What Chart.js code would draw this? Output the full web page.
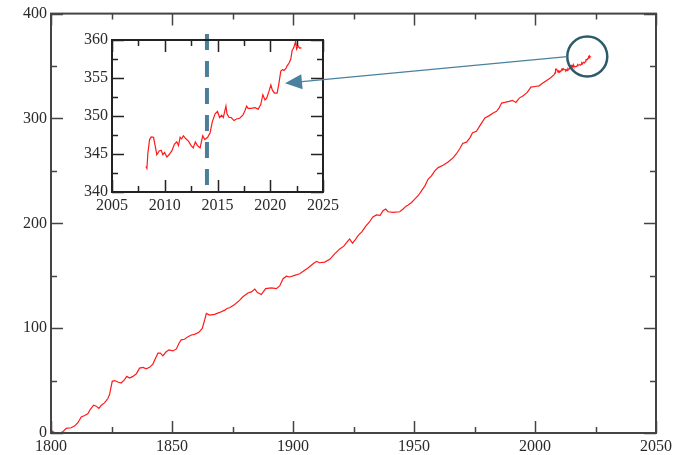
<!DOCTYPE html>
<html><head><meta charset="utf-8">
<script src="https://cdn.jsdelivr.net/npm/chart.js@4/dist/chart.umd.min.js"></script>
<style>
html,body{margin:0;padding:0;background:#fff;}
#wrap{position:relative;width:689px;height:455px;}
canvas{position:absolute;left:0;top:0;}
</style></head><body>
<div id="wrap"><canvas id="main" width="689" height="455"></canvas><canvas id="inset" width="689" height="455"></canvas></div>
<script>
// ---- data ----
const mainYears = [1800.1,1801.4,1803.5,1804.9,1806.3,1808.3,1809.7,1811.1,1812.5,1813.9,1815.2,1816.2,1817.6,1818.7,1819.8,1820.8,1822.1,1823.5,1824.2,1824.6,1825.3,1826.3,1827.6,1829,1830.4,1831.3,1832.5,1833.8,1835.2,1836.6,1838,1839.4,1840.7,1842.1,1843.2,1844.2,1845.2,1846.2,1847.4,1848.7,1850.4,1851.8,1852.9,1853.8,1855.2,1856.6,1858,1859.3,1861.1,1862.5,1863.5,1864.2,1865.5,1867.6,1869.7,1871.8,1872.7,1873.8,1875.9,1878,1879.3,1881.4,1882.8,1884.2,1885.3,1886.9,1888.7,1891.1,1893.1,1894.5,1895.9,1897.3,1898.6,1900.7,1902.8,1904.8,1906.2,1908.3,1909.7,1911,1913.1,1915.2,1917.2,1919.3,1921,1922.3,1923.4,1924.6,1925.5,1926.9,1928.5,1930,1931.5,1933,1934.5,1936,1937.2,1938.3,1939.3,1941.4,1944.1,1945.5,1946.6,1947.6,1949,1950.3,1951.7,1953.1,1954.5,1955.8,1957.2,1958.6,1960,1962,1964.1,1966.2,1967.6,1968.9,1970.1,1971.7,1973.1,1974.2,1975.8,1977.5,1979.3,1981.1,1982.7,1984.1,1985.2,1986.2,1987.5,1989.3,1990.7,1992.1,1993.5,1995.1,1996.8,1998.3,2000,2001.7,2003.1,2004.8,2006.2,2007.8];
const mainValues = [2.5,0.5,0,1.2,4.4,5,6.6,9.8,15.2,16.7,18.3,22.4,26.5,25.6,23.4,26.5,28.7,32.9,36.7,41.4,49.3,50,48.6,47.7,50.9,54,52.4,54,56.2,61.9,62.6,61.3,62.6,65.7,71.4,76.1,76.1,73.6,77,79.3,78.3,80.2,85.6,88.8,89.4,91.9,93.5,94.1,96,99.8,107.8,114,112.5,113.1,115,117.2,118.8,119.4,122.6,126.7,129.9,133.6,134.6,137.2,133.9,132,137.7,138.4,137.7,140.3,147.2,149.5,148.8,150.4,151.9,155.2,157.3,161.4,163.7,162.4,163,165.6,170.9,175.6,178.2,182,185.1,181,183.6,188.3,192,197,201,206,208,207.5,212,213.6,211,210.4,211,213.6,216.1,217.4,219.9,223,226.3,231,235.7,242,245.2,250,253.1,255.3,258.5,262.6,266.6,271.1,276.1,277.4,281.5,286.3,287.8,294.1,300.5,302.7,305.2,306.8,310,314.7,315.3,316.3,317.3,315.3,319.4,321.6,324.8,329.9,330.5,331.1,333.6,336.2,338.4,341.5];
const insetYears = [2008.21,2008.31,2008.4,2008.56,2008.72,2008.94,2009.1,2009.25,2009.47,2009.66,2009.82,2009.98,2010.2,2010.4,2010.67,2010.92,2011.14,2011.3,2011.46,2011.6,2011.77,2012.0,2012.25,2012.5,2012.7,2012.9,2013.1,2013.35,2013.6,2013.8,2014.07,2014.3,2014.5,2014.77,2015.0,2015.2,2015.4,2015.55,2015.8,2015.9,2016.1,2016.3,2016.56,2016.8,2017.1,2017.4,2017.6,2017.76,2017.9,2018.2,2018.55,2018.86,2019.1,2019.3,2019.5,2019.65,2019.87,2020.06,2020.2,2020.4,2020.65,2020.8,2021.0,2021.16,2021.3,2021.5,2021.6,2021.8,2021.95,2022.07,2022.23,2022.4,2022.5,2022.64,2022.8,2022.95];
const insetValues = [343.36,343.1,345.1,346.9,347.25,347.2,346.0,344.9,345.4,345.5,344.9,345.2,344.6,344.9,345.4,346.3,346.6,346.1,347.2,347.0,347.4,347.0,346.7,346.1,345.8,346.6,346.1,345.8,347.4,346.9,347.2,347.8,349.2,350.3,350.6,349.8,350.1,349.8,351.3,350.3,349.8,349.8,349.4,349.6,349.7,350.1,350.7,351.3,351.0,351.0,351.1,350.9,351.5,352.8,352.1,352.3,353.2,354.1,353.4,353.0,353.0,354.1,355.9,356.1,356.0,356.3,356.6,357.0,357.5,358.6,359.0,359.8,358.8,359.2,358.9,359.0];
const mainXRange = [1800, 2050];
const mainYRange = [0, 400];
const insetXRange = [2005, 2025];
const insetYRange = [340, 360];
const markerYear = 2014;
const circleAt = {x: 2021.6, y: 359};
const arrowTip = {x: 2021.4, y: 354.3};

// ---- helpers ----
const FONT = {family: "'Liberation Serif','DejaVu Serif',serif", size: 16};
const LABEL = '#2a2a2a';
const isMaj = (v, m) => Math.abs(v / m - Math.round(v / m)) < 1e-6;
function framePlugin(id, xMajor, yMajor, color) {
  return {
    id,
    afterDraw(chart) {
      const {ctx, chartArea: a, scales: {x, y}} = chart;
      ctx.save();
      ctx.strokeStyle = color;
      ctx.lineWidth = 1.5;
      x.ticks.forEach(t => {
        const px = Math.round(x.getPixelForValue(t.value)) + 0.5;
        const L = isMaj(t.value, xMajor) ? 12 : 6;
        ctx.beginPath();
        ctx.moveTo(px, a.bottom); ctx.lineTo(px, a.bottom - L);
        ctx.moveTo(px, a.top); ctx.lineTo(px, a.top + L);
        ctx.stroke();
      });
      y.ticks.forEach(t => {
        const py = Math.round(y.getPixelForValue(t.value)) + 0.5;
        const L = isMaj(t.value, yMajor) ? 12 : 6;
        ctx.beginPath();
        ctx.moveTo(a.left, py); ctx.lineTo(a.left + L, py);
        ctx.moveTo(a.right, py); ctx.lineTo(a.right - L, py);
        ctx.stroke();
      });
      ctx.lineWidth = 2;
      ctx.strokeRect(a.left, a.top, a.right - a.left, a.bottom - a.top);
      ctx.restore();
    }
  };
}
function axis(range, step, major, fit) {
  return {
    type: 'linear', min: range[0], max: range[1],
    grid: {display: false, drawTicks: false},
    border: {display: false},
    afterFit: fit,
    ticks: {
      stepSize: step, autoSkip: false, maxRotation: 0, color: LABEL, font: FONT, padding: 4,
      callback: v => (isMaj(v, major) ? String(v) : '')
    }
  };
}

// ---- main chart ----
const mainData = mainYears.map((x, i) => ({x, y: mainValues[i]}))
  .concat(insetYears.map((x, i) => ({x, y: insetValues[i]})));
const mainChart = new Chart(document.getElementById('main'), {
  type: 'line',
  data: {datasets: [{data: mainData, borderColor: '#ff1a1a', borderWidth: 1.2, pointRadius: 0, tension: 0}]},
  options: {
    responsive: false, animation: false, devicePixelRatio: 1,
    layout: {padding: {left: 0, right: 33, top: 10, bottom: 0}},
    plugins: {legend: {display: false}, tooltip: {enabled: false}},
    scales: {
      x: axis(mainXRange, 25, 50, s => { s.height = 22; }),
      y: axis(mainYRange, 50, 100, s => { s.width = 51; })
    }
  },
  plugins: [framePlugin('mainFrame', 50, 100, '#444')]
});

// ---- inset chart (overlay) ----
const insetData = insetYears.map((x, i) => ({x, y: insetValues[i]}));
const markerPlugin = {
  id: 'marker',
  afterDatasetsDraw(chart) {
    const {ctx, chartArea: a, scales: {x}} = chart;
    const px = x.getPixelForValue(markerYear);
    ctx.save();
    ctx.strokeStyle = '#4a7f99';
    ctx.lineWidth = 4;
    ctx.setLineDash([16, 11]);
    ctx.beginPath();
    ctx.moveTo(px, a.top - 6); ctx.lineTo(px, a.bottom);
    ctx.stroke();
    ctx.restore();
  }
};
const calloutPlugin = {
  id: 'callout',
  afterDraw(chart) {
    const ctx = chart.ctx;
    const mx = mainChart.scales.x, my = mainChart.scales.y;
    const cx = mx.getPixelForValue(circleAt.x), cy = my.getPixelForValue(circleAt.y);
    const r = 20;
    const tx = chart.scales.x.getPixelForValue(arrowTip.x), ty = chart.scales.y.getPixelForValue(arrowTip.y);
    const sx = cx - r, sy = cy;
    ctx.save();
    // circle
    ctx.strokeStyle = '#2e5a6a';
    ctx.lineWidth = 2.5;
    ctx.beginPath(); ctx.arc(cx, cy, r, 0, Math.PI * 2); ctx.stroke();
    // arrow
    const ang = Math.atan2(ty - sy, tx - sx);
    const hl = 17, hw = 7.5;
    const bx = tx - hl * Math.cos(ang), by = ty - hl * Math.sin(ang);
    ctx.strokeStyle = '#4a80a0';
    ctx.fillStyle = '#4a80a0';
    ctx.lineWidth = 1.2;
    ctx.beginPath(); ctx.moveTo(sx, sy); ctx.lineTo(bx, by); ctx.stroke();
    ctx.beginPath();
    ctx.moveTo(tx, ty);
    ctx.lineTo(bx + hw * Math.sin(ang), by - hw * Math.cos(ang));
    ctx.lineTo(bx - hw * Math.sin(ang), by + hw * Math.cos(ang));
    ctx.closePath(); ctx.fill();
    ctx.restore();
  }
};
const insetChart = new Chart(document.getElementById('inset'), {
  type: 'line',
  data: {datasets: [{data: insetData, borderColor: '#ff1a1a', borderWidth: 1.2, pointRadius: 0, tension: 0}]},
  options: {
    responsive: false, animation: false, devicePixelRatio: 1,
    events: [],
    layout: {padding: {left: 62, right: 366, top: 40, bottom: 235}},
    plugins: {legend: {display: false}, tooltip: {enabled: false}},
    scales: {
      x: axis(insetXRange, 2.5, 5, s => { s.height = 28; }),
      y: axis(insetYRange, 2.5, 5, s => { s.width = 50; })
    }
  },
  plugins: [markerPlugin, framePlugin('insetFrame', 5, 5, '#222'), calloutPlugin]
});
</script>
</body></html>
